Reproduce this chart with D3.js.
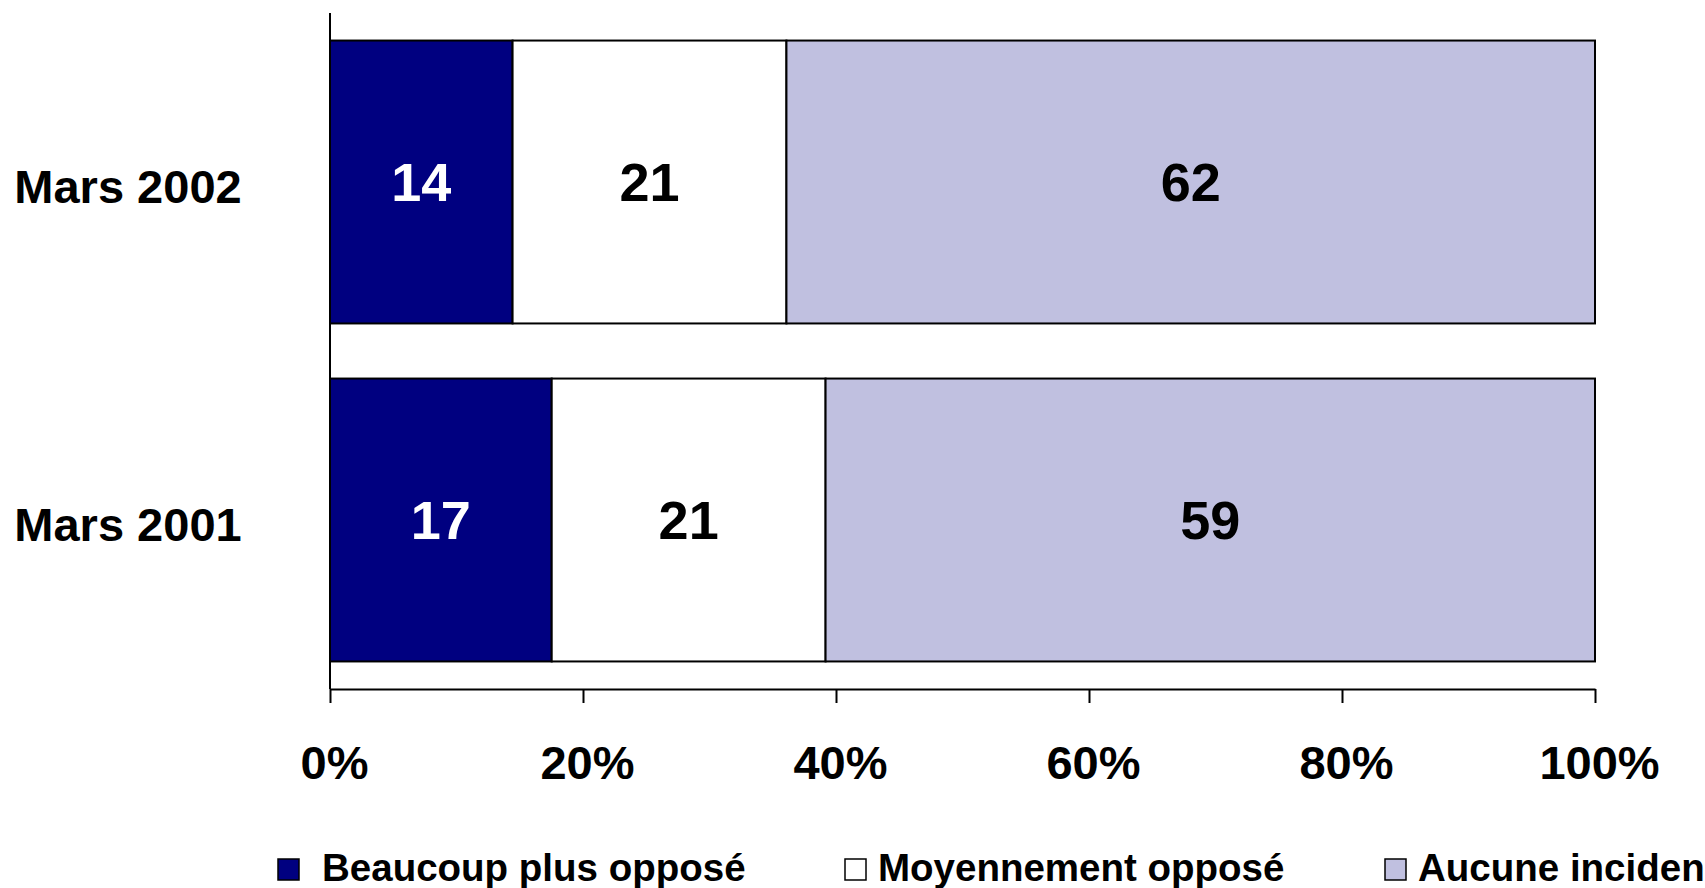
<!DOCTYPE html>
<html>
<head>
<meta charset="utf-8">
<script src="https://cdn.jsdelivr.net/npm/d3@7"></script>
<style>
  html, body { margin: 0; padding: 0; background: #ffffff; overflow: hidden; }
  svg { display: block; }
  text { font-family: "Liberation Sans", Arial, Helvetica, sans-serif; font-weight: bold; }
</style>
</head>
<body>
<svg id="chart" width="1705" height="888"></svg>
<script>
// Survey waves, drawn top to bottom
const categories = ["Mars 2002", "Mars 2001"];

// Series names (legend order = stacking order, left to right)
const seriesNames = ["Beaucoup plus opposé", "Moyennement opposé", "Aucune incidence"];

// Values per series, aligned with categories
const beaucoupValues = [14, 17];
const moyennementValues = [21, 21];
const aucuneValues = [62, 59];

// Percentage axis ticks
const tickValues = [0, 0.2, 0.4, 0.6, 0.8, 1.0];
const tickLabels = ["0%", "20%", "40%", "60%", "80%", "100%"];

const seriesColors = ["#000080", "#ffffff", "#c0c0e0"];
const labelColors = ["#ffffff", "#000000", "#000000"];

const svg = d3.select("#chart");
const W = 1705, H = 888;

const plot = { left: 330, right: 1595, top: 13, bottom: 689 };

// Rows combining each category with its three values
const rows = categories.map((c, i) => ({
  category: c,
  [seriesNames[0]]: beaucoupValues[i],
  [seriesNames[1]]: moyennementValues[i],
  [seriesNames[2]]: aucuneValues[i]
}));

// 100% stacking: each row is normalised by its total
const stacked = d3.stack()
  .keys(seriesNames)
  .offset(d3.stackOffsetExpand)(rows);

const x = d3.scaleLinear().domain([0, 1]).range([plot.left, plot.right]);
const y = d3.scaleBand()
  .domain(categories)
  .range([plot.top, plot.bottom])
  .paddingInner(0.163)
  .paddingOuter(0.0815);

svg.append("rect").attr("width", W).attr("height", H).attr("fill", "#ffffff");

// Stacked bar segments
const layers = svg.append("g").selectAll("g")
  .data(stacked)
  .join("g")
  .attr("fill", (d, i) => seriesColors[i]);

layers.selectAll("rect")
  .data(d => d)
  .join("rect")
  .attr("x", d => x(d[0]))
  .attr("y", d => y(d.data.category))
  .attr("width", d => x(d[1]) - x(d[0]))
  .attr("height", y.bandwidth())
  .attr("stroke", "#000000")
  .attr("stroke-width", 2);

// Value labels centred in each segment
stacked.forEach((layer, si) => {
  svg.append("g").selectAll("text")
    .data(layer)
    .join("text")
    .attr("x", d => (x(d[0]) + x(d[1])) / 2)
    .attr("y", d => y(d.data.category) + y.bandwidth() / 2 + 19)
    .attr("text-anchor", "middle")
    .attr("font-size", 54)
    .attr("fill", labelColors[si])
    .text(d => d.data[layer.key]);
});

// Vertical axis line (no ticks)
svg.append("line")
  .attr("x1", plot.left).attr("x2", plot.left)
  .attr("y1", plot.top).attr("y2", plot.bottom)
  .attr("stroke", "#000000").attr("stroke-width", 2);

// Category labels
svg.append("g").selectAll("text")
  .data(categories)
  .join("text")
  .attr("x", 128)
  .attr("y", d => y(d) + y.bandwidth() / 2 + 21)
  .attr("text-anchor", "middle")
  .attr("font-size", 47)
  .attr("fill", "#000000")
  .text(d => d);

// Percentage axis
const xAxis = d3.axisBottom(x)
  .tickValues(tickValues)
  .tickFormat((d, i) => tickLabels[i])
  .tickSizeInner(14)
  .tickSizeOuter(0)
  .tickPadding(45);

const gx = svg.append("g")
  .attr("transform", `translate(0,${plot.bottom})`)
  .call(xAxis);
gx.select(".domain").attr("stroke", "#000000").attr("stroke-width", 2);
gx.selectAll(".tick line").attr("stroke", "#000000").attr("stroke-width", 2);
gx.selectAll(".tick text")
  .attr("font-size", 47)
  .attr("font-family", "\"Liberation Sans\", Arial, sans-serif")
  .attr("font-weight", "bold")
  .attr("fill", "#000000")
  .attr("dx", 4)
  .attr("dy", null)
  .attr("y", 90);

// Legend along the bottom edge (the last entry runs off the right edge)
const legendSquareX = [278, 845, 1385];
const legendTextX = [322, 878, 1418];
const legend = svg.append("g").selectAll("g")
  .data(seriesNames)
  .join("g");

legend.append("rect")
  .attr("x", (d, i) => legendSquareX[i])
  .attr("y", 859)
  .attr("width", 21)
  .attr("height", 21)
  .attr("fill", (d, i) => seriesColors[i])
  .attr("stroke", "#000000")
  .attr("stroke-width", 1.5);

legend.append("text")
  .attr("x", (d, i) => legendTextX[i])
  .attr("y", 881)
  .attr("font-size", 38.5)
  .attr("fill", "#000000")
  .text(d => d);
</script>
</body>
</html>
